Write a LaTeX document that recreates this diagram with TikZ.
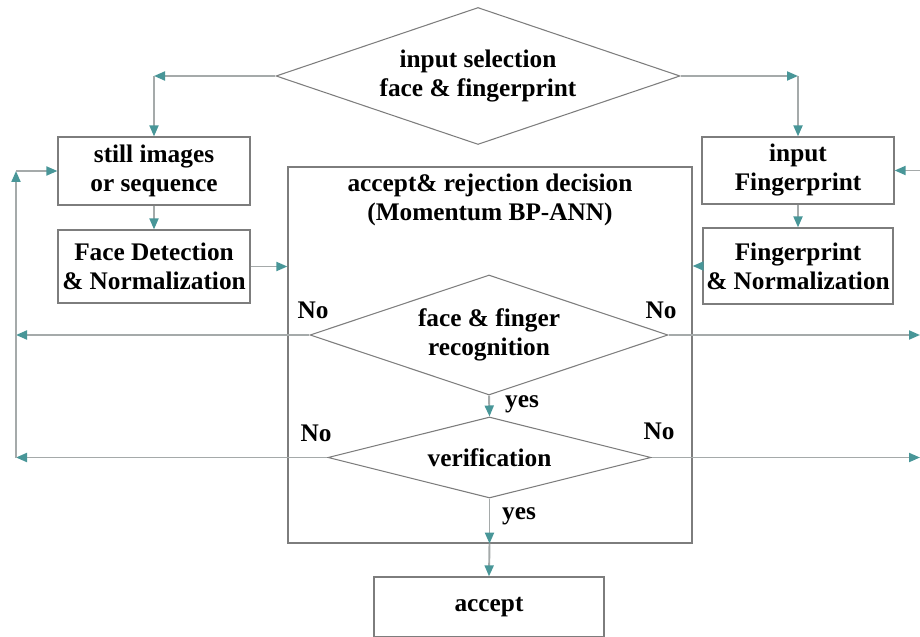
\documentclass[tikz,border=0pt]{standalone}
\usepackage{fontspec}
\setmainfont{Liberation Serif}
\usepackage{tikz}
\usetikzlibrary{arrows.meta,shapes.geometric,positioning,calc}
\definecolor{linegray}{RGB}{165,170,170}
\definecolor{boxgray}{RGB}{125,125,125}
\definecolor{tipteal}{RGB}{72,150,152}

\begin{document}
\begin{tikzpicture}[
  font=\fontsize{14.4}{16.5}\selectfont\bfseries,
  box/.style={rectangle,draw=boxgray,line width=0.7pt,align=center,
              inner sep=0pt},
  decide/.style={diamond,draw=boxgray,line width=0.6pt,align=center,
                 inner sep=0pt},
  conn/.style={draw=linegray,line width=1.1pt,
               -{Triangle[length=0.22cm,width=0.18cm,color=tipteal]}},
  lbl/.style={inner sep=0pt},
]
\useasboundingbox (0,0) rectangle (18.4,-12.74);
% input selection diamond
\node[decide,aspect=2.95,minimum width=8.08cm,minimum height=2.74cm] (sel) at (9.56,-1.52)
  {input selection\\face \& fingerprint};
% face branch
\node[box,minimum width=3.84cm,minimum height=1.36cm] (still) at (3.08,-3.42)
  {still images\\or sequence};
\node[box,minimum width=3.84cm,minimum height=1.46cm] (facedet) at (3.08,-5.33)
  {Face Detection\\\& Normalization};
% fingerprint branch
\node[box,minimum width=3.84cm,minimum height=1.34cm] (fpin) at (15.96,-3.41)
  {input\\Fingerprint};
\node[box,minimum width=3.8cm,minimum height=1.52cm] (fpnorm) at (15.96,-5.32)
  {Fingerprint\\\& Normalization};
% decision block
\node[box,minimum width=8.08cm,minimum height=7.52cm,
      label={[lbl,align=center,anchor=north]north:{\rule{0pt}{0.5cm}accept\& rejection decision\\(Momentum BP-ANN)}}]
  (dec) at (9.8,-7.1) {};
\node[decide,aspect=2.98,minimum width=7.16cm,minimum height=2.4cm] (recog) at (9.78,-6.7)
  {face \& finger\\recognition};
\node[decide,aspect=3.99,minimum width=6.46cm,minimum height=1.62cm] (verif) at (9.79,-9.15)
  {verification};
\node[box,minimum width=4.6cm,minimum height=1.2cm] (acc) at (9.78,-12.14)
  {accept};
% corners of the loops
\coordinate (cl) at (still.north |- sel.west);
\coordinate (cr) at (fpin.north |- sel.east);
\coordinate (lt) at (0.32,0 |- still.west);
\coordinate (lb) at (0.32,0 |- verif.west);
\coordinate (rt) at (18.4,0 |- fpin.east);
\coordinate (rm) at (18.4,0 |- recog.east);
\coordinate (rb) at (18.4,0 |- verif.east);
% connectors
\draw[conn] (sel.west) -- (cl);
\draw[conn] (cl) -- (still.north);
\draw[conn] (sel.east) -- (cr);
\draw[conn] (cr) -- (fpin.north);
\draw[conn] (still) -- (facedet);
\draw[conn] (fpin) -- (fpnorm);
\draw[conn] (facedet.east) -- (dec.west |- facedet.east);
\draw[conn] (fpnorm.west) -- (dec.east |- fpnorm.west);
\draw[conn] (recog.south) -- (verif.north);
\draw[conn] (verif.south) -- (verif.south |- dec.south);
\draw[conn] (verif.south |- dec.south) -- (acc.north);
% rejection loops
\draw[conn] (recog.west) -- (0.32,0 |- recog.west);
\draw[conn] (verif.west) -- (lb);
\draw[conn] (lb) -- (lt);
\draw[conn] (lt) -- (still.west);
\draw[conn] (recog.east) -- (rm);
\draw[conn] (verif.east) -- (rb);
\draw[conn] (rt) -- (fpin.east);
% branch labels
\node[lbl] (no1) at (6.26,-6.2) {No};
\node[lbl] (no2) at (13.22,-6.2) {No};
\node[lbl] (no3) at (6.32,-8.66) {No};
\node[lbl] (no4) at (13.18,-8.62) {No};
\node[lbl] (yes1) at (10.44,-8.08) {yes};
\node[lbl] (yes2) at (10.38,-10.32) {yes};
\end{tikzpicture}
\end{document}
